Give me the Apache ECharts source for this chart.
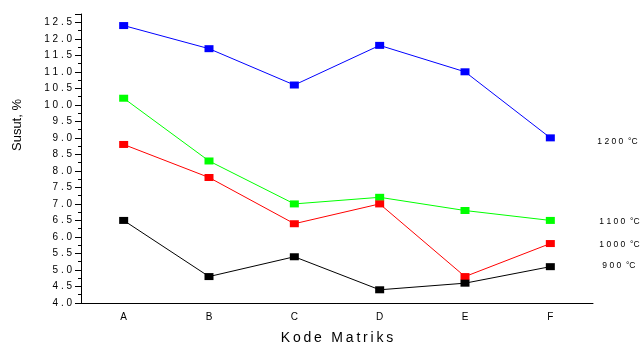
<!DOCTYPE html>
<html><head><meta charset="utf-8">
<script src="https://cdn.jsdelivr.net/npm/echarts@6/dist/echarts.min.js"></script>
<style>html,body{margin:0;padding:0;background:#fff}#c{width:642px;height:344px}</style>
</head><body><div id="c"></div>
<script>
const categories = ['A','B','C','D','E','F'];
const s1200 = [12.4, 11.7, 10.6, 11.8, 11.0, 9.0];
const s1100 = [10.2, 8.3, 7.0, 7.2, 6.8, 6.5];
const s1000 = [8.8, 7.8, 6.4, 7.0, 4.8, 5.8];
const s900 = [6.5, 4.8, 5.4, 4.4, 4.6, 5.1];
const seriesNames = ['1200 °C', '1100 °C', '1000 °C', '900 °C'];
const xTitle = 'Kode Matriks';
const yTitle = 'Susut, %';

const font = 'Liberation Sans, Arial, sans-serif';
const spaced = s => s.split('').join(' ');
const thin = s => s.split('').join('\u2009');

function mk(name, data, color, off) {
  return {
    name, type: 'line', data, xAxisIndex: 0,
    symbol: 'rect', symbolSize: [9, 7],
    lineStyle: { color, width: 1 },
    itemStyle: { color },
    endLabel: { show: true, formatter: () => spaced(name.replace(' °C','')) + '  °C', color: '#000',
      fontFamily: font, fontSize: 8.5, offset: off, distance: 0 }
  };
}
const chart = echarts.init(document.getElementById('c'));
chart.setOption({
  animation: false,
  grid: { left: 81, right: 49, top: 14, bottom: 41, outerBoundsMode: 'none', containLabel: false },
  xAxis: [{
    type: 'category', data: categories, boundaryGap: true,
    axisLine: { lineStyle: { color: '#000', width: 1 } },
    axisTick: { alignWithLabel: true, length: 6, lineStyle: { color: '#000' } },
    axisLabel: { color: '#000', fontFamily: font, fontSize: 10, margin: 9 },
    name: thin(xTitle), nameLocation: 'middle', nameGap: 28,
    nameTextStyle: { color: '#000', fontFamily: font, fontSize: 14 }
  }, {
    type: 'category', data: categories, boundaryGap: true, position: 'bottom',
    axisLine: { show: false },
    axisTick: { length: 3, lineStyle: { color: '#000' } },
    axisLabel: { show: false }
  }],
  yAxis: {
    type: 'value', min: 4, max: 12.75, interval: 0.5,
    axisLine: { show: true, lineStyle: { color: '#000', width: 1 } },
    axisTick: { show: true, length: 6, lineStyle: { color: '#000' } },
    minorTick: { show: true, splitNumber: 2, length: 3, lineStyle: { color: '#000' } },
    splitLine: { show: false },
    axisLabel: { color: '#000', fontFamily: font, fontSize: 10, margin: 9,
      formatter: v => v > 12.6 ? '' : spaced(v.toFixed(1)) }
  },
  graphic: [{
    type: 'text', x: 11, y: 125, rotation: Math.PI / 2,
    style: { text: yTitle, fontFamily: font, fontSize: 13, fill: '#000', align: 'center', verticalAlign: 'top' }
  }],
  series: [
    mk(seriesNames[0], s1200, '#0000ff', [47, 4]),
    mk(seriesNames[1], s1100, '#00ff00', [49, 1]),
    mk(seriesNames[2], s1000, '#ff0000', [49, 1]),
    mk(seriesNames[3], s900, '#000000', [52, -1])
  ]
});
</script></body></html>
